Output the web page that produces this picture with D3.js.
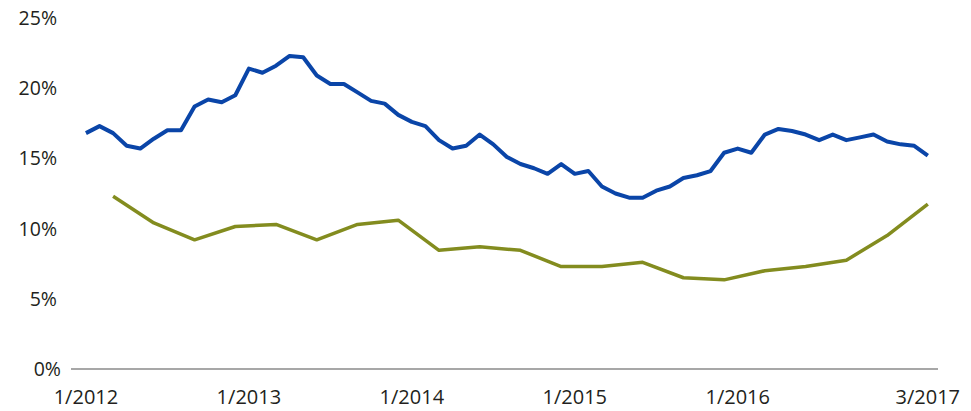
<!DOCTYPE html>
<html>
<head>
<meta charset="utf-8">
<script src="https://cdn.jsdelivr.net/npm/d3@7"></script>
<style>
  body { margin: 0; background: #fff; }
  text { font-family: "Open Sans", "Noto Sans", sans-serif; fill: #231f20; }
</style>
</head>
<body>
<div id="chart"></div>
<script>
var svgWidth = 971;
var svgHeight = 411;

// blue series: monthly, 1/2012 .. 3/2017 (month index 0..62)
var blueValues = [
  16.8, 17.3, 16.8, 15.9, 15.7, 16.4, 17.0, 17.0, 18.7, 19.2,
  19.0, 19.5, 21.4, 21.1, 21.6, 22.3, 22.2, 20.9, 20.3, 20.3,
  19.7, 19.1, 18.9, 18.1, 17.6, 17.3, 16.3, 15.7, 15.9, 16.7,
  16.0, 15.1, 14.6, 14.3, 13.9, 14.6, 13.9, 14.1, 13.0, 12.5,
  12.2, 12.2, 12.7, 13.0, 13.6, 13.8, 14.1, 15.4, 15.7, 15.4,
  16.7, 17.1, 16.95, 16.7, 16.3, 16.7, 16.3, 16.5, 16.7, 16.2,
  16.0, 15.9, 15.2
];

// green series: quarterly, 3/2012 .. 3/2017
var greenMonths = [2, 5, 8, 11, 14, 17, 20, 23, 26, 29, 32, 35, 38, 41, 44, 47, 50, 53, 56, 59, 62];
var greenValues = [
  12.3, 10.4, 9.2, 10.15, 10.3, 9.2, 10.3, 10.6, 8.45, 8.7,
  8.45, 7.3, 7.3, 7.6, 6.5, 6.35, 7.0, 7.3, 7.75, 9.5, 11.75
];

var yTicks = [0, 5, 10, 15, 20, 25];
var xTickMonths = [0, 12, 24, 36, 48, 62];
var xTickLabels = ["1/2012", "1/2013", "1/2014", "1/2015", "1/2016", "3/2017"];

var margin = { top: 18, right: 33, bottom: 42, left: 71 };
var height = svgHeight - margin.top - margin.bottom;

var svg = d3.select("#chart")
  .append("svg")
  .attr("width", svgWidth)
  .attr("height", svgHeight);

var x = d3.scaleLinear()
  .domain([-1.1, 62.75])
  .range([margin.left, svgWidth - margin.right]);

var y = d3.scaleLinear()
  .domain([0, 25])
  .range([margin.top + height, margin.top]);

// baseline
svg.append("line")
  .attr("x1", x.range()[0])
  .attr("x2", x.range()[1])
  .attr("y1", y(0))
  .attr("y2", y(0))
  .attr("stroke", "#8a8a8a")
  .attr("stroke-width", 1.5);

// y labels
svg.selectAll(".ylab")
  .data(yTicks)
  .enter()
  .append("text")
  .attr("class", "ylab")
  .attr("x", d => d === 0 ? 61 : 57)
  .attr("y", d => y(d))
  .attr("dy", "0.36em")
  .attr("text-anchor", "end")
  .style("font-size", "19.5px")
  .text(d => d + "%");

// x labels
svg.selectAll(".xlab")
  .data(xTickMonths)
  .enter()
  .append("text")
  .attr("class", "xlab")
  .attr("x", d => x(d))
  .attr("y", y(0) + 35)
  .attr("text-anchor", "middle")
  .style("font-size", "20px")
  .text((d, i) => xTickLabels[i]);

var line = d3.line()
  .x(d => x(d[0]))
  .y(d => y(d[1]));

svg.append("path")
  .datum(greenMonths.map((m, i) => [m, greenValues[i]]))
  .attr("d", line)
  .attr("fill", "none")
  .attr("stroke", "#838c1f")
  .attr("stroke-width", 3.5)
  .attr("stroke-linejoin", "round");

svg.append("path")
  .datum(blueValues.map((v, i) => [i, v]))
  .attr("d", line)
  .attr("fill", "none")
  .attr("stroke", "#0a45a8")
  .attr("stroke-width", 4)
  .attr("stroke-linejoin", "round");
</script>
</body>
</html>
